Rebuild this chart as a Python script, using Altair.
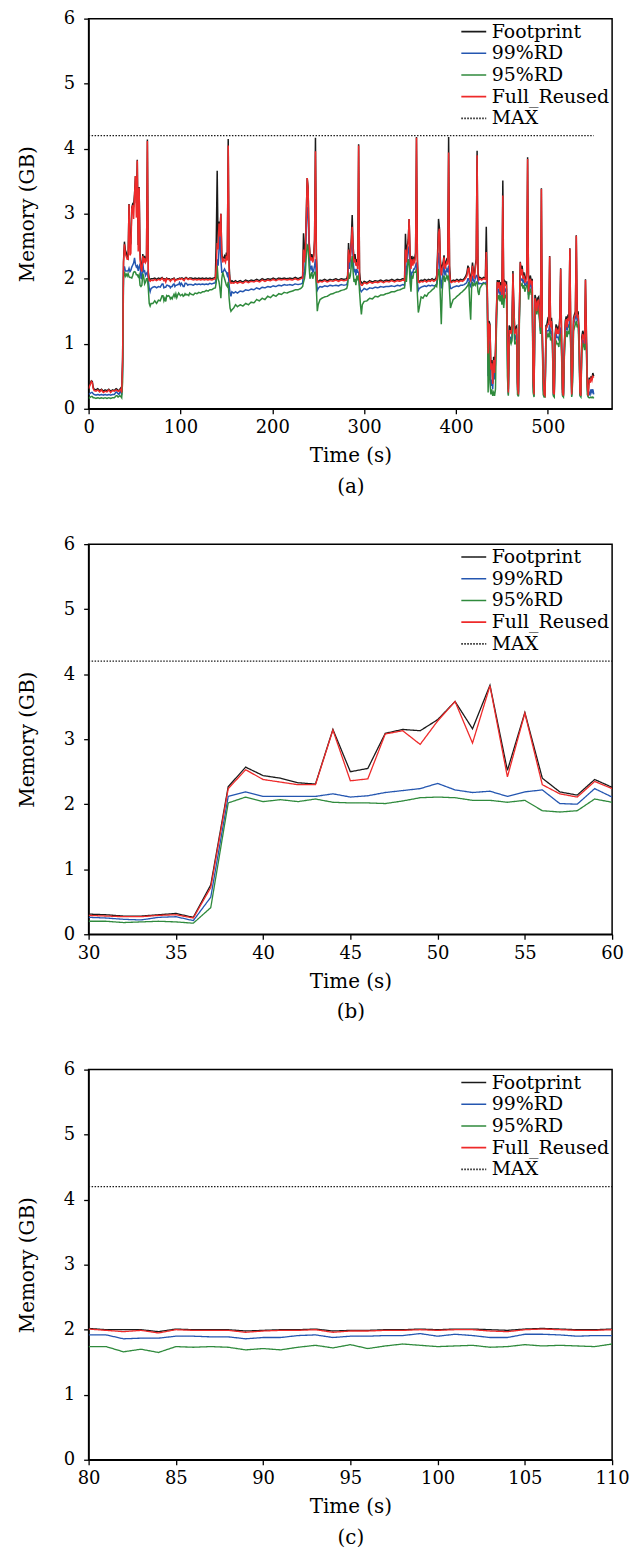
import altair as alt
import pandas as pd

SERIES = ["Footprint", "99%RD", "95%RD", "Full_Reused", "MAX"]
COLORS = ["#1a1a1a", "#2456b0", "#2f8a3c", "#ee2a2a", "#1a1a1a"]
DASHES = [[1, 0], [1, 0], [1, 0], [1, 0], [1.5, 1.5]]
MAX_VALUE = 4.2
FONT = "DejaVu Serif"

# ---------------- panel (b): 30-60 s ----------------
B_TIME = list(range(30, 61))
B_FOOT = [0.31, 0.30, 0.28, 0.28, 0.30, 0.32, 0.26, 0.76, 2.27, 2.57, 2.44, 2.40, 2.33, 2.31, 3.15, 2.50,
          2.55, 3.09, 3.15, 3.13, 3.30, 3.58, 3.16, 3.83, 2.52, 3.41, 2.40, 2.19, 2.14, 2.38, 2.26]
B_RD99 = [0.26, 0.25, 0.23, 0.22, 0.26, 0.27, 0.21, 0.57, 2.12, 2.19, 2.12, 2.12, 2.12, 2.12, 2.16, 2.11,
          2.13, 2.18, 2.21, 2.24, 2.32, 2.22, 2.18, 2.20, 2.12, 2.19, 2.22, 2.01, 2.00, 2.24, 2.11]
B_RD95 = [0.20, 0.20, 0.18, 0.19, 0.20, 0.19, 0.17, 0.41, 2.02, 2.11, 2.04, 2.07, 2.04, 2.08, 2.03, 2.02,
          2.02, 2.01, 2.05, 2.10, 2.11, 2.10, 2.06, 2.06, 2.03, 2.06, 1.90, 1.88, 1.90, 2.08, 2.03]
B_FULL = [0.29, 0.28, 0.27, 0.27, 0.29, 0.30, 0.25, 0.72, 2.24, 2.53, 2.38, 2.34, 2.30, 2.30, 3.14, 2.36,
          2.39, 3.08, 3.13, 2.92, 3.28, 3.58, 2.94, 3.82, 2.42, 3.40, 2.30, 2.16, 2.11, 2.35, 2.24]

# ---------------- panel (c): 80-110 s ----------------
C_TIME = list(range(80, 111))
C_FOOT = [2.02, 2.00, 2.00, 2.00, 1.97, 2.01, 2.00, 2.00, 2.00, 1.98, 1.99, 2.00, 2.00, 2.01, 1.98, 1.99,
          1.99, 2.00, 2.00, 2.01, 2.00, 2.01, 2.01, 2.00, 1.99, 2.01, 2.02, 2.01, 2.00, 2.00, 2.01]
C_RD99 = [1.92, 1.92, 1.86, 1.87, 1.87, 1.90, 1.90, 1.89, 1.89, 1.86, 1.88, 1.88, 1.91, 1.92, 1.88, 1.90,
          1.90, 1.91, 1.91, 1.94, 1.90, 1.93, 1.91, 1.88, 1.88, 1.93, 1.93, 1.92, 1.90, 1.91, 1.91]
C_RD95 = [1.74, 1.74, 1.66, 1.70, 1.65, 1.74, 1.73, 1.74, 1.73, 1.69, 1.71, 1.69, 1.73, 1.76, 1.72, 1.77,
          1.71, 1.75, 1.78, 1.76, 1.74, 1.75, 1.76, 1.73, 1.74, 1.77, 1.75, 1.76, 1.75, 1.74, 1.78]
C_FULL = [2.01, 1.99, 1.97, 1.99, 1.95, 2.00, 1.99, 1.99, 1.99, 1.96, 1.98, 1.99, 1.99, 2.00, 1.96, 1.98,
          1.98, 1.99, 1.99, 2.00, 1.99, 2.00, 2.00, 1.98, 1.97, 2.00, 2.01, 2.00, 1.99, 1.99, 2.00]

# ---------------- panel (a): whole run, pieces outside (b) and (c) ----------------
A0_TIME = [0, 2, 3, 4, 5, 6, 8, 10, 12, 14, 16, 18, 20, 22, 24, 26, 28]
A0_FOOT = [0.33, 0.40, 0.43, 0.42, 0.33, 0.30, 0.29, 0.31, 0.28, 0.30, 0.27, 0.29, 0.28, 0.30, 0.27, 0.29, 0.28]
A0_RD99 = [0.22, 0.24, 0.25, 0.25, 0.23, 0.22, 0.21, 0.22, 0.21, 0.22, 0.21, 0.22, 0.21, 0.22, 0.21, 0.22, 0.22]
A0_RD95 = [0.16, 0.18, 0.19, 0.19, 0.17, 0.17, 0.16, 0.17, 0.16, 0.17, 0.16, 0.17, 0.16, 0.17, 0.16, 0.17, 0.17]
A0_FULL = [0.31, 0.38, 0.42, 0.40, 0.31, 0.28, 0.27, 0.29, 0.26, 0.29, 0.25, 0.27, 0.26, 0.29, 0.25, 0.28, 0.27]

A1_TIME = [61, 62, 63, 64, 65, 66, 67, 68, 70, 72, 74, 76, 78]
A1_FOOT = [2.35, 2.28, 2.30, 4.14, 2.10, 2.00, 1.99, 2.00, 2.00, 2.01, 1.99, 2.01, 2.00]
A1_RD99 = [2.12, 2.05, 2.08, 2.10, 1.98, 1.85, 1.80, 1.85, 1.87, 1.88, 1.86, 1.88, 1.87]
A1_RD95 = [1.92, 1.95, 2.00, 2.00, 1.85, 1.62, 1.58, 1.62, 1.62, 1.66, 1.62, 1.67, 1.66]
A1_FULL = [2.32, 2.25, 2.28, 4.12, 2.05, 1.97, 1.96, 1.98, 1.97, 1.99, 1.97, 1.99, 1.98]

A2_TIME = [112, 114, 116, 118, 120, 122, 124, 126, 128, 130, 132, 134, 136, 138,
           139, 140, 141, 142, 143, 144, 145, 146, 147, 148, 149, 150, 151, 152, 153, 154, 155, 156,
           158, 160, 162, 165, 168, 171, 174, 177, 180, 183, 186, 189, 192, 195, 198, 201, 204, 207,
           210, 213, 216, 219, 222, 225, 228, 231, 233]
A2_FOOT = [2.01, 2.00, 2.01, 2.00, 2.01, 2.00, 2.01, 2.00, 2.01, 2.00, 2.01, 2.00, 2.01, 2.02,
           2.60, 3.66, 2.50, 2.88, 2.70, 3.00, 2.40, 2.28, 2.32, 2.35, 2.30, 2.40, 2.32, 4.15, 2.20, 1.97, 1.95, 1.97,
           1.95, 1.97, 1.95, 1.97, 1.95, 1.98, 1.96, 1.98, 1.97, 1.99, 1.97, 2.00, 1.98, 2.00, 1.99, 2.01, 1.99, 2.01,
           2.00, 2.01, 2.00, 2.01, 2.00, 2.02, 2.00, 2.02, 2.03]
A2_RD99 = [1.91, 1.90, 1.92, 1.91, 1.92, 1.91, 1.92, 1.91, 1.92, 1.91, 1.93, 1.92, 1.93, 1.94,
           2.05, 2.30, 2.20, 2.45, 2.75, 2.30, 2.10, 2.10, 2.12, 2.15, 2.12, 2.10, 2.05, 2.10, 1.90, 1.78, 1.73, 1.80,
           1.78, 1.80, 1.78, 1.81, 1.80, 1.83, 1.82, 1.84, 1.83, 1.86, 1.84, 1.87, 1.86, 1.88, 1.87, 1.89, 1.88, 1.90,
           1.89, 1.91, 1.90, 1.91, 1.90, 1.92, 1.91, 1.92, 1.93]
A2_RD95 = [1.76, 1.75, 1.78, 1.77, 1.79, 1.78, 1.80, 1.80, 1.82, 1.81, 1.83, 1.83, 1.85, 1.86,
           1.95, 2.20, 2.00, 1.95, 1.85, 1.70, 2.00, 2.10, 2.05, 2.00, 1.95, 1.90, 1.88, 1.95, 1.70, 1.55, 1.50, 1.52,
           1.55, 1.60, 1.57, 1.60, 1.58, 1.62, 1.60, 1.64, 1.63, 1.68, 1.66, 1.70, 1.68, 1.73, 1.71, 1.75, 1.73, 1.77,
           1.76, 1.79, 1.78, 1.80, 1.81, 1.83, 1.83, 1.85, 1.88]
A2_FULL = [1.99, 1.98, 1.99, 1.98, 1.99, 1.98, 1.99, 1.98, 1.99, 1.98, 1.99, 1.98, 1.99, 2.00,
           2.20, 2.55, 2.45, 2.85, 2.65, 3.00, 2.35, 2.25, 2.30, 2.28, 2.25, 2.35, 2.28, 4.05, 2.10, 1.95, 1.93, 1.94,
           1.93, 1.95, 1.93, 1.95, 1.93, 1.96, 1.94, 1.96, 1.95, 1.97, 1.95, 1.98, 1.96, 1.98, 1.97, 1.99, 1.97, 1.99,
           1.98, 1.99, 1.98, 1.99, 1.98, 2.00, 1.98, 2.00, 2.01]

A3_TIME = [234, 235, 236, 237, 238, 239, 240, 241, 242, 243, 244, 245, 246, 247, 248, 249, 250,
           252, 254, 257, 260, 263, 266, 269, 272, 275, 278, 281,
           282, 283, 284, 285, 286, 287, 288, 289, 290, 291, 292, 293, 294, 295, 296, 297, 298,
           300, 303, 306, 309, 312, 315, 318, 321, 324, 327, 330, 333, 336, 339, 342, 344]
A3_FOOT = [2.70, 2.30, 2.50, 3.00, 3.55, 3.40, 2.60, 2.40, 2.30, 2.38, 2.30, 2.35, 2.60, 4.17, 2.40, 1.97, 1.96,
           1.98, 1.97, 1.99, 1.97, 1.99, 1.98, 2.00, 1.98, 2.00, 1.99, 2.00,
           2.05, 2.55, 2.30, 2.40, 2.60, 2.98, 2.50, 2.30, 2.38, 2.25, 2.30, 2.20, 4.07, 2.10, 1.96, 1.95, 1.92,
           1.96, 1.94, 1.97, 1.95, 1.97, 1.96, 1.98, 1.96, 1.98, 1.97, 1.99, 1.97, 1.99, 1.98, 2.00, 1.99]
A3_RD99 = [2.10, 2.05, 2.30, 2.75, 3.10, 3.05, 2.45, 2.20, 2.15, 2.20, 2.10, 2.12, 2.20, 2.30, 2.00, 1.82, 1.85,
           1.88, 1.87, 1.89, 1.88, 1.90, 1.89, 1.90, 1.89, 1.91, 1.90, 1.91,
           1.95, 2.30, 2.15, 2.30, 2.50, 2.60, 2.30, 2.10, 2.15, 2.05, 2.15, 2.10, 2.10, 1.90, 1.82, 1.80, 1.82,
           1.85, 1.83, 1.86, 1.85, 1.87, 1.86, 1.88, 1.87, 1.88, 1.88, 1.89, 1.88, 1.90, 1.89, 1.91, 1.90]
A3_RD95 = [1.95, 2.00, 2.10, 2.35, 2.52, 2.50, 2.20, 2.00, 2.05, 2.10, 2.00, 2.05, 2.10, 2.10, 1.85, 1.50, 1.60,
           1.68, 1.70, 1.72, 1.73, 1.76, 1.77, 1.79, 1.80, 1.82, 1.83, 1.85,
           1.90, 2.10, 2.00, 2.05, 2.20, 2.35, 2.10, 1.95, 2.00, 1.90, 2.05, 2.00, 2.05, 1.80, 1.60, 1.45, 1.60,
           1.65, 1.66, 1.70, 1.69, 1.73, 1.72, 1.75, 1.75, 1.77, 1.78, 1.80, 1.80, 1.82, 1.83, 1.85, 1.86]
A3_FULL = [2.45, 2.25, 2.45, 2.95, 3.55, 3.38, 2.55, 2.35, 2.28, 2.33, 2.25, 2.30, 2.55, 3.96, 2.30, 1.95, 1.94,
           1.96, 1.95, 1.97, 1.95, 1.97, 1.96, 1.98, 1.96, 1.98, 1.97, 1.98,
           2.00, 2.45, 2.25, 2.35, 2.55, 2.80, 2.45, 2.25, 2.30, 2.20, 2.25, 2.15, 4.05, 2.00, 1.92, 1.90, 1.90,
           1.94, 1.92, 1.95, 1.93, 1.95, 1.94, 1.96, 1.94, 1.96, 1.95, 1.97, 1.95, 1.97, 1.96, 1.98, 1.97]

A4_TIME = [345, 346, 347, 348, 349, 350, 351, 352, 353, 354, 355, 356, 357, 358, 359, 360,
           362, 364, 366, 368, 370, 372, 374, 376, 378,
           379, 380, 381, 382, 383, 384, 385, 386, 387, 388, 389, 390, 391, 392, 393, 394, 395,
           397, 399, 401, 403, 405, 407, 409,
           411, 412, 413, 414, 415, 416, 417, 418, 419, 420, 421, 422, 423, 424, 425, 426,
           428, 430, 432]
A4_FOOT = [2.69, 2.30, 2.50, 2.60, 2.92, 2.40, 2.20, 2.35, 2.25, 2.32, 2.30, 2.40, 4.18, 2.30, 1.97, 1.96,
           1.98, 1.97, 1.99, 1.97, 1.99, 1.98, 2.00, 1.98, 2.00,
           2.05, 2.40, 2.92, 2.78, 2.30, 2.10, 2.20, 2.25, 2.36, 2.20, 2.25, 2.30, 2.28, 4.18, 2.20, 1.97, 1.96,
           1.98, 1.97, 1.99, 1.97, 1.99, 1.98, 2.00,
           2.05, 2.10, 2.20, 2.16, 2.05, 2.00, 2.10, 2.25, 2.10, 2.05, 2.20, 2.30, 3.97, 2.10, 2.00, 2.02,
           2.00, 2.02, 2.01]
A4_RD99 = [2.20, 2.05, 2.30, 2.45, 2.50, 2.15, 1.95, 2.10, 2.10, 2.15, 2.15, 2.20, 2.25, 1.95, 1.82, 1.85,
           1.87, 1.88, 1.89, 1.88, 1.90, 1.89, 1.90, 1.89, 1.90,
           1.92, 2.10, 2.40, 2.30, 2.00, 1.85, 2.00, 2.10, 2.20, 2.05, 2.10, 2.15, 2.10, 2.20, 1.95, 1.85, 1.85,
           1.87, 1.88, 1.89, 1.88, 1.90, 1.90, 1.91,
           1.93, 1.95, 2.00, 2.00, 1.90, 1.88, 1.95, 2.05, 1.97, 1.95, 2.00, 2.05, 2.05, 1.95, 1.92, 1.93,
           1.92, 1.94, 1.93]
A4_RD95 = [2.05, 1.95, 2.15, 2.30, 2.25, 1.95, 1.80, 2.05, 2.00, 2.10, 2.10, 2.10, 2.15, 1.75, 1.48, 1.55,
           1.72, 1.70, 1.75, 1.73, 1.78, 1.80, 1.83, 1.85, 1.90,
           1.88, 2.00, 2.15, 2.10, 1.70, 1.30, 1.80, 2.00, 2.05, 1.95, 2.00, 2.05, 2.00, 2.05, 1.80, 1.55, 1.60,
           1.68, 1.70, 1.73, 1.75, 1.78, 1.80, 1.83,
           1.86, 1.88, 1.90, 1.95, 1.60, 1.37, 1.85, 1.95, 1.90, 1.92, 1.90, 1.95, 1.95, 1.80, 1.75, 1.85,
           1.90, 1.93, 1.92]
A4_FULL = [2.45, 2.25, 2.45, 2.55, 2.92, 2.35, 2.15, 2.30, 2.20, 2.28, 2.25, 2.35, 4.17, 2.20, 1.95, 1.94,
           1.96, 1.95, 1.97, 1.95, 1.97, 1.96, 1.98, 1.96, 1.98,
           2.00, 2.30, 2.70, 2.77, 2.25, 2.05, 2.15, 2.20, 2.33, 2.15, 2.20, 2.25, 2.22, 3.94, 2.10, 1.95, 1.94,
           1.96, 1.95, 1.97, 1.95, 1.97, 1.96, 1.98,
           2.02, 2.05, 2.15, 2.16, 2.00, 1.97, 2.05, 2.20, 2.05, 2.00, 2.15, 2.25, 3.90, 2.05, 1.98, 2.00,
           1.98, 2.00, 1.99]

A5_TIME = list(range(433, 551))
A5_FOOT = [2.80, 1.95, 0.90, 1.35, 1.30, 0.65, 0.75, 0.40, 0.80, 0.60, 0.90, 1.50, 1.98, 1.90, 1.98, 1.85,
           1.95, 1.80, 3.51, 1.75, 1.97, 1.95, 1.95, 1.20, 0.30, 1.28, 1.25, 1.20, 1.30, 2.12, 1.60, 1.20,
           1.25, 1.27, 0.40, 0.25, 1.50, 2.26, 2.10, 2.20, 2.05, 2.10, 1.98, 2.00, 2.10, 3.87, 1.85, 2.00,
           2.05, 1.95, 2.00, 0.50, 0.25, 1.75, 1.70, 1.55, 1.70, 1.72, 1.50, 1.30, 3.39, 1.20, 0.50, 0.25,
           0.23, 1.28, 1.30, 1.38, 1.35, 2.35, 1.30, 1.40, 1.20, 0.30, 0.25, 1.15, 1.30, 1.20, 1.25, 1.20,
           1.40, 2.16, 1.10, 0.30, 0.22, 1.00, 1.35, 1.42, 1.30, 1.45, 1.40, 2.47, 1.20, 0.25, 0.70, 1.40,
           1.45, 1.50, 2.67, 1.45, 1.50, 1.20, 0.30, 0.23, 1.10, 1.20, 1.15, 1.05, 1.99, 1.20, 0.40, 0.22,
           0.48, 0.42, 0.50, 0.45, 0.55, 0.50]
A5_RD99 = [1.95, 1.85, 0.50, 1.05, 0.70, 0.35, 0.45, 0.30, 0.65, 0.45, 0.70, 1.30, 1.85, 1.80, 1.85, 1.75,
           1.85, 1.70, 1.90, 1.65, 1.85, 1.82, 1.85, 0.80, 0.22, 1.10, 1.10, 1.05, 1.10, 1.95, 1.40, 1.05,
           1.10, 1.15, 0.30, 0.20, 1.40, 2.00, 1.98, 2.00, 1.95, 1.98, 1.90, 1.90, 1.95, 1.95, 1.75, 1.90,
           1.92, 1.85, 1.90, 0.35, 0.20, 1.65, 1.60, 1.50, 1.60, 1.60, 1.40, 1.20, 1.60, 1.10, 0.30, 0.20,
           0.20, 1.15, 1.20, 1.20, 1.20, 1.30, 1.15, 1.20, 1.05, 0.22, 0.20, 1.00, 1.15, 1.10, 1.10, 1.05,
           1.20, 1.25, 0.90, 0.22, 0.19, 0.85, 1.20, 1.30, 1.20, 1.30, 1.25, 1.40, 1.00, 0.20, 0.50, 1.30,
           1.35, 1.40, 1.45, 1.35, 1.40, 1.00, 0.22, 0.19, 0.95, 1.05, 1.05, 0.95, 1.10, 1.00, 0.30, 0.19,
           0.25, 0.22, 0.30, 0.25, 0.30, 0.22]
A5_RD95 = [1.92, 1.80, 0.25, 1.00, 0.40, 0.22, 0.30, 0.20, 0.25, 0.20, 0.30, 1.20, 1.75, 1.70, 1.75, 1.65,
           1.75, 1.60, 1.75, 1.55, 1.75, 1.70, 1.78, 0.50, 0.20, 1.00, 1.05, 1.00, 1.05, 1.85, 1.35, 1.00,
           1.00, 1.05, 0.22, 0.19, 1.30, 1.95, 1.90, 1.92, 1.85, 1.90, 1.80, 1.85, 1.90, 1.90, 1.68, 1.80,
           1.85, 1.75, 1.80, 0.25, 0.18, 1.55, 1.55, 1.45, 1.55, 1.50, 1.35, 1.15, 1.50, 1.00, 0.22, 0.18,
           0.18, 1.05, 1.10, 1.15, 1.10, 1.20, 1.05, 1.10, 1.00, 0.20, 0.18, 0.95, 1.05, 1.00, 1.00, 0.95,
           1.10, 1.15, 0.80, 0.20, 0.18, 0.80, 1.10, 1.20, 1.10, 1.20, 1.15, 1.30, 0.90, 0.18, 0.40, 1.20,
           1.25, 1.30, 1.35, 1.25, 1.30, 0.90, 0.20, 0.18, 0.85, 1.00, 1.00, 0.90, 1.00, 0.90, 0.22, 0.18,
           0.17, 0.17, 0.18, 0.17, 0.18, 0.16]
A5_FULL = [2.41, 1.90, 0.85, 1.30, 1.28, 0.60, 0.70, 0.38, 0.75, 0.55, 0.85, 1.45, 1.95, 1.85, 1.95, 1.80,
           1.90, 1.75, 3.28, 1.70, 1.95, 1.90, 1.90, 1.10, 0.25, 1.20, 1.20, 1.15, 1.25, 2.08, 1.55, 1.15,
           1.20, 1.22, 0.35, 0.22, 1.45, 2.25, 2.05, 2.15, 2.00, 2.05, 1.95, 1.95, 2.05, 3.84, 1.80, 1.95,
           2.00, 1.90, 1.97, 0.45, 0.22, 1.70, 1.65, 1.50, 1.65, 1.68, 1.45, 1.25, 3.38, 1.15, 0.45, 0.22,
           0.20, 1.25, 1.25, 1.30, 1.30, 2.34, 1.25, 1.35, 1.15, 0.25, 0.22, 1.10, 1.25, 1.15, 1.20, 1.15,
           1.35, 2.15, 1.00, 0.25, 0.20, 0.95, 1.30, 1.38, 1.25, 1.40, 1.35, 2.46, 1.10, 0.22, 0.65, 1.35,
           1.42, 1.45, 2.66, 1.40, 1.45, 1.10, 0.25, 0.20, 1.05, 1.15, 1.10, 1.00, 1.98, 1.10, 0.35, 0.20,
           0.45, 0.40, 0.47, 0.43, 0.50, 0.48]

A_TIME = A0_TIME + B_TIME + A1_TIME + C_TIME + A2_TIME + A3_TIME + A4_TIME + A5_TIME
A_FOOT = A0_FOOT + B_FOOT + A1_FOOT + C_FOOT + A2_FOOT + A3_FOOT + A4_FOOT + A5_FOOT
A_RD99 = A0_RD99 + B_RD99 + A1_RD99 + C_RD99 + A2_RD99 + A3_RD99 + A4_RD99 + A5_RD99
A_RD95 = A0_RD95 + B_RD95 + A1_RD95 + C_RD95 + A2_RD95 + A3_RD95 + A4_RD95 + A5_RD95
A_FULL = A0_FULL + B_FULL + A1_FULL + C_FULL + A2_FULL + A3_FULL + A4_FULL + A5_FULL

Y_TICKS = [0, 1, 2, 3, 4, 5, 6]


def panel(time, series_vals, xdom, xticks, caption, sw):
    rows = []
    for name, vals in zip(SERIES[:4], series_vals):
        for t, v in zip(time, vals):
            rows.append({"t": t, "v": v, "s": name})
    rows.append({"t": time[0], "v": MAX_VALUE, "s": "MAX"})
    rows.append({"t": time[-1], "v": MAX_VALUE, "s": "MAX"})
    df = pd.DataFrame(rows)

    leg = alt.Legend(title=None, orient="top-right", offset=2, padding=0,
                     labelFont=FONT, labelFontSize=19, labelColor="black",
                     symbolType="M-1.25,0H1.25", symbolSize=400, symbolStrokeWidth=1.6,
                     labelOffset=7, rowPadding=0.8)
    color = alt.Color("s:N", scale=alt.Scale(domain=SERIES, range=COLORS), legend=leg)
    dash = alt.StrokeDash("s:N", scale=alt.Scale(domain=SERIES, range=DASHES), legend=leg)
    x = alt.X("t:Q", scale=alt.Scale(domain=xdom, nice=False, zero=False),
              axis=alt.Axis(values=xticks, title=["Time (s)", caption], titleLineHeight=31,
                            titlePadding=9, labelPadding=5, labelFlush=False))
    y = alt.Y("v:Q", scale=alt.Scale(domain=[0, 6], nice=False),
              axis=alt.Axis(values=Y_TICKS, title="Memory (GB)", titlePadding=26, labelPadding=9,
                            labelFlush=False))
    layers = []
    for name in SERIES:
        w = 1.2 if name == "MAX" else sw
        layers.append(
            alt.Chart(df).transform_filter(alt.datum.s == name)
            .mark_line(strokeWidth=w, clip=True)
            .encode(x=x, y=y, color=color, strokeDash=dash)
        )
    return alt.layer(*layers).properties(width=526, height=392)


pa = panel(A_TIME, [A_FOOT, A_RD99, A_RD95, A_FULL], [0, 570], [0, 100, 200, 300, 400, 500], "(a)", 1.5)
pb = panel(B_TIME, [B_FOOT, B_RD99, B_RD95, B_FULL], [30, 60], [30, 35, 40, 45, 50, 55, 60], "(b)", 1.3)
pc = panel(C_TIME, [C_FOOT, C_RD99, C_RD95, C_FULL], [80, 110], [80, 85, 90, 95, 100, 105, 110], "(c)", 1.3)

chart = (
    alt.vconcat(pa, pb, pc, spacing=136, bounds="flush")
    .resolve_scale(color="independent", strokeDash="independent", x="independent")
    .resolve_legend(color="independent", strokeDash="independent")
    .properties(padding={"left": 8, "top": -3, "right": 5, "bottom": 0})
    .configure_axis(labelFont=FONT, titleFont=FONT, labelFontSize=18, titleFontSize=20,
                    labelColor="black", titleColor="black", titleFontWeight="normal",
                    domainColor="black", tickColor="black", domainWidth=1.3, tickWidth=1.3,
                    tickSize=5, grid=False)
    .configure_view(stroke="black", strokeWidth=1.5)
)

chart.save("out.html", embed_options={"renderer": "svg", "actions": False})
